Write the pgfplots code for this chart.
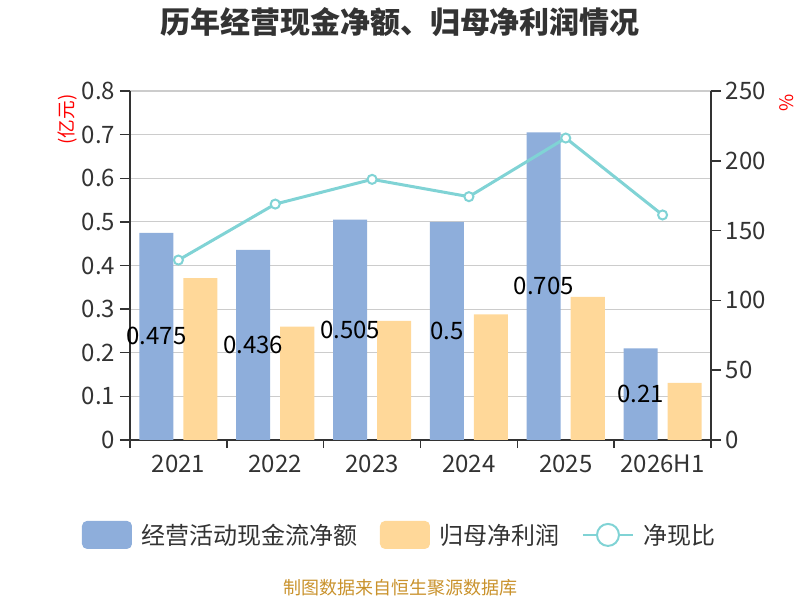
\documentclass[border=0pt]{standalone}
\usepackage{fontspec}
\setmainfont{Noto Sans CJK SC}
\usepackage{pgfplots}
\pgfplotsset{compat=1.18}
\definecolor{cblue}{HTML}{8EAEDB}
\definecolor{cyellow}{HTML}{FFD899}
\definecolor{cteal}{HTML}{80D3D5}
\definecolor{ctext}{HTML}{333333}
\definecolor{cgrid}{HTML}{CCCCCC}
\definecolor{csrc}{HTML}{C9922C}
\newcommand\fs[1]{\fontsize{#1}{#1}\selectfont}
\begin{document}
\begin{tikzpicture}
\path[use as bounding box] (0,0) rectangle (600pt,450pt);
\node[font=\fs{22.5}\bfseries, text=ctext] at (300pt,433.5pt) {历年经营现金净额、归母净利润情况};
\node[font=\fs{13.5}, text=csrc] at (300pt,9pt) {制图数据来自恒生聚源数据库};
\begin{axis}[
  at={(97.5pt,120pt)}, anchor=south west,
  scale only axis, width=435.75pt, height=261.75pt,
  xmin=-0.5, xmax=5.5, ymin=0, ymax=0.8,
  xtick={0,1,2,3,4,5},
  xticklabels={2021,2022,2023,2024,2025,2026H1},
  minor xtick={-0.5,0.5,1.5,2.5,3.5,4.5,5.5},
  ytick={0,0.1,0.2,0.3,0.4,0.5,0.6,0.7,0.8},
  yticklabels={0,0.1,0.2,0.3,0.4,0.5,0.6,0.7,0.8},
  axis x line*=bottom, axis y line*=left,
  axis line style={-, color=ctext, line width=1.1pt},
  tick align=outside,
  major tick length=7.5pt, minor tick length=6pt,
  major x tick style={draw=none},
  minor x tick style={color=ctext, line width=1.1pt},
  ytick style={color=ctext, line width=1.1pt},
  ymajorgrids, grid style={color=cgrid, line width=0.9pt},
  tick label style={font=\fs{18}, text=ctext},
  /pgf/number format/assume math mode=true,
  ylabel={(亿元)},
  every axis y label/.style={at={(axis description cs:-0.108,1.003)}, anchor=east, rotate=90, font=\fs{14}, text=red},
  legend columns=3,
  legend style={at={(axis description cs:0.463,-0.272)}, anchor=center, draw=none, fill=none,
    inner sep=0pt, font=\fs{18}, text=ctext,
    nodes={inner sep=0pt},
    /tikz/every odd column/.append style={column sep=7.5pt},
    /tikz/every even column/.append style={column sep=16.5pt}},
  clip=false,
]
\addplot[ybar, bar width=25.5pt, bar shift=-16.5pt, fill=cblue, draw=none,
  point meta=explicit symbolic,
  visualization depends on={rawy \as \ry},
  nodes near coords,
  nodes near coords style={font=\fs{18}, text=black, anchor=center, xshift=-16.5pt, yshift={-163.59pt*\ry}},
  legend image code/.code={\fill[cblue, rounded corners=3.75pt] (0pt,-10.5pt) rectangle (37.5pt,10.5pt);}]
  coordinates {(0,0.475)[0.475] (1,0.436)[0.436] (2,0.505)[0.505] (3,0.5)[0.5] (4,0.705)[0.705] (5,0.21)[0.21]};
\addlegendentry{经营活动现金流净额}
\addplot[ybar, bar width=25.5pt, bar shift=16.5pt, fill=cyellow, draw=none,
  legend image code/.code={\fill[cyellow, rounded corners=3.75pt] (0pt,-10.5pt) rectangle (37.5pt,10.5pt);}]
  coordinates {(0,0.371) (1,0.260) (2,0.273) (3,0.288) (4,0.328) (5,0.131)};
\addlegendentry{归母净利润}
\addlegendimage{legend image code/.code={\draw[cteal, line width=1.5pt] (0pt,0pt) -- (37.5pt,0pt); \draw[cteal, line width=1.5pt, fill=white] (18.75pt,0pt) circle (8.25pt);}}
\addlegendentry{净现比}
\end{axis}
\begin{axis}[
  at={(97.5pt,120pt)}, anchor=south west,
  scale only axis, width=435.75pt, height=261.75pt,
  xmin=-0.5, xmax=5.5, ymin=0, ymax=250,
  axis x line=none, axis y line*=right,
  axis line style={-, color=ctext, line width=1.1pt},
  ytick={0,50,100,150,200,250},
  yticklabels={0,50,100,150,200,250},
  tick align=outside, major tick length=7.5pt,
  ytick style={color=ctext, line width=1.1pt},
  tick label style={font=\fs{18}, text=ctext},
  /pgf/number format/assume math mode=true,
  ylabel={\%},
  every axis y label/.style={at={(axis description cs:1.131,1.003)}, anchor=east, rotate=90, font=\fs{14}, text=red},
  clip=false,
]
\addplot[cteal, line width=2.25pt, mark=*, mark size=3.4pt, mark options={fill=white, draw=cteal, line width=1.5pt}]
  coordinates {(0,128.9) (1,169.0) (2,186.7) (3,174.3) (4,216.3) (5,161.2)};
\end{axis}
\end{tikzpicture}
\end{document}
